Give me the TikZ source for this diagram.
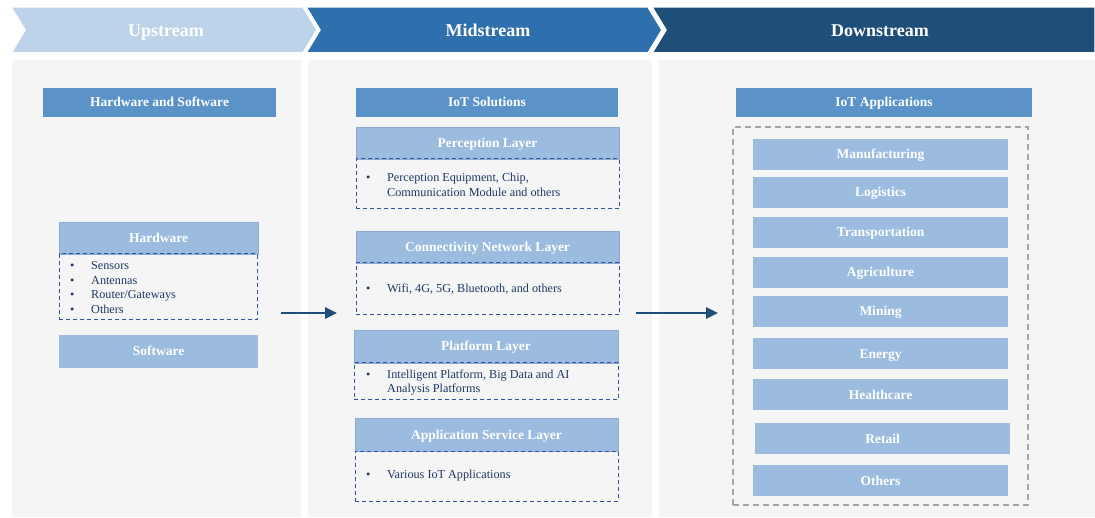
\documentclass[tikz,border=0pt]{standalone}
\usepackage{fontspec}
\setmainfont{Liberation Serif}
\usetikzlibrary{arrows.meta}

\definecolor{upcol}{HTML}{BDD3E9}
\definecolor{midcol}{HTML}{2E70AE}
\definecolor{downcol}{HTML}{1F4E79}
\definecolor{panelcol}{HTML}{F5F5F5}
\definecolor{darkbox}{HTML}{5B93C9}
\definecolor{lightbox}{HTML}{9BBBDF}
\definecolor{lightedge}{HTML}{8AAAD2}
\definecolor{dashcol}{HTML}{2F5597}
\definecolor{navytext}{HTML}{1F3864}
\definecolor{greydash}{HTML}{A6A6A6}

\newcommand{\bul}{\makebox[21pt][l]{\textbullet}}

\tikzset{
	streamlabel/.style={anchor=base, text=white, font=\fontsize{18}{20}\selectfont\bfseries},
	darkhead/.style={fill=darkbox, inner sep=0pt, minimum height=29, text height=10.5pt, text depth=1.5pt, text=white, font=\fontsize{13.5}{16}\selectfont\bfseries},
	lighthead/.style={fill=lightbox, draw=lightedge, line width=0.6pt, inner sep=0pt, text height=10.5pt, text depth=1.5pt, text=white, font=\fontsize{13.5}{16}\selectfont\bfseries},
	appbox/.style={fill=lightbox, inner sep=0pt, minimum width=255, minimum height=31, text height=10.5pt, text depth=1.5pt, text=white, font=\fontsize{13.5}{16}\selectfont\bfseries},
	dashbox/.style={draw=dashcol, dash pattern=on 4pt off 3pt, line width=1pt, inner sep=0pt},
	bullets/.style={anchor=west, inner sep=0pt, text=navytext, font=\fontsize{12.2}{14.5}\selectfont, align=left},
	flow/.style={draw=downcol, line width=2.6pt, -{Triangle[length=12pt,width=11pt]}}
}

\begin{document}
\begin{tikzpicture}[x=1pt,y=-1pt]
	\useasboundingbox[fill=white] (0,0) rectangle (1095,518);
	%otsikkonuolet
	\fill[upcol, draw=white, line width=1.5pt] (11,7) -- (303,7) -- (317,30) -- (303,53) -- (11,53) -- (25,30) -- cycle;
	\fill[midcol, draw=white, line width=1.5pt] (306,7) -- (648,7) -- (662,30) -- (648,53) -- (306,53) -- (320,30) -- cycle;
	\fill[downcol, draw=white, line width=1.5pt] (652,7) -- (1095,7) -- (1095,53) -- (652,53) -- (666,30) -- cycle;
	\node[streamlabel] (up) at (166,36.5) {Upstream};
	\node[streamlabel] (mid) at (488,36.5) {Midstream};
	\node[streamlabel] (down) at (880,36.5) {Downstream};
	%taustat
	\fill[panelcol] (12,60) rectangle (301,517);
	\fill[panelcol] (308,60) rectangle (652,517);
	\fill[panelcol] (659,60) rectangle (1095,517);

	%upstream
	\node[darkhead, minimum width=233] (hws) at (159.5,102.5) {Hardware and Software};
	\node[lighthead, minimum width=199, minimum height=32] (hw) at (158.5,238) {Hardware};
	\node[dashbox, minimum width=198, minimum height=66] (hwlist) at (158,287) {};
	\node[bullets] (hwtext) at (70,287.5) {\bul Sensors\\ \bul Antennas\\ \bul Router/Gateways\\ \bul Others};
	\node[lighthead, draw=none, minimum width=199, minimum height=33] (sw) at (158.5,351.5) {Software};
	\coordinate (ua) at (281,313);
	\coordinate (ub) at (337,313);
	\draw[flow] (ua) -- (ub);

	%midstream
	\node[darkhead, minimum width=262] (sol) at (487,102.5) {IoT Solutions};
	\node[lighthead, minimum width=263, minimum height=32] (perc) at (487.5,143) {Perception Layer};
	\node[dashbox, minimum width=263, minimum height=50] (perclist) at (487.5,184) {};
	\node[bullets] (perctext) at (366,185) {\bul Perception Equipment, Chip,\\ \makebox[21pt]{}Communication Module and others};
	\node[lighthead, minimum width=263, minimum height=32] (conn) at (487.5,247) {Connectivity Network Layer};
	\node[dashbox, minimum width=263, minimum height=52] (connlist) at (487.5,289) {};
	\node[bullets] (conntext) at (366,289) {\bul Wifi, 4G, 5G, Bluetooth, and others};
	\node[lighthead, minimum width=264, minimum height=33] (plat) at (486,346.5) {Platform Layer};
	\node[dashbox, minimum width=264, minimum height=37] (platlist) at (486,381.5) {};
	\node[bullets] (plattext) at (366,382.5) {\bul Intelligent Platform, Big Data and AI\\ \makebox[21pt]{}Analysis Platforms};
	\node[lighthead, minimum width=263, minimum height=33] (appl) at (486.5,434.5) {Application Service Layer};
	\node[dashbox, minimum width=263, minimum height=50] (appllist) at (486.5,476) {};
	\node[bullets] (appltext) at (366,476) {\bul Various IoT Applications};
	\coordinate (ma) at (636,313);
	\coordinate (mb) at (718,313);
	\draw[flow] (ma) -- (mb);

	%downstream
	\node[darkhead, minimum width=296] (apps) at (884,102.5) {IoT Applications};
	\node[draw=greydash, dash pattern=on 6pt off 4pt, line width=1.6pt, minimum width=295, minimum height=378] (appframe) at (880.5,316) {};
	\node[appbox] (manu) at (880.5,154.5) {Manufacturing};
	\node[appbox] (logi) at (880.5,192.5) {Logistics};
	\node[appbox] (trans) at (880.5,232.5) {Transportation};
	\node[appbox] (agri) at (880.5,272.5) {Agriculture};
	\node[appbox] (mine) at (880.5,311.5) {Mining};
	\node[appbox] (ener) at (880.5,354) {Energy};
	\node[appbox] (health) at (880.5,395) {Healthcare};
	\node[appbox] (retail) at (882.5,438.5) {Retail};
	\node[appbox] (other) at (880.5,480.5) {Others};
\end{tikzpicture}
\end{document}
